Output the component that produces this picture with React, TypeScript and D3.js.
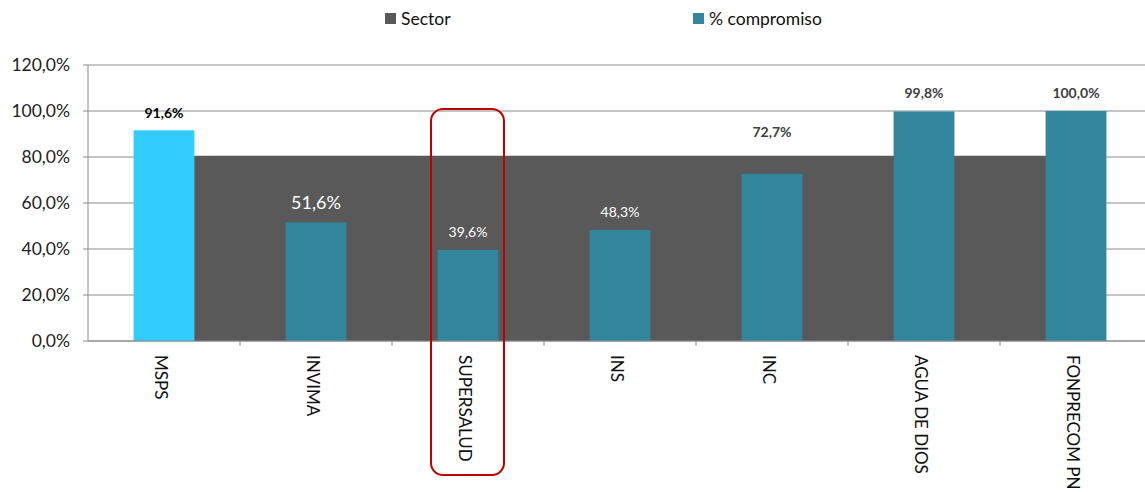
import React, { useEffect, useRef } from "react";
import * as d3 from "d3";

const categories = ["MSPS", "INVIMA", "SUPERSALUD", "INS", "INC", "AGUA DE DIOS", "FONPRECOM PN"];
const compromiso = [91.6, 51.6, 39.6, 48.3, 72.7, 99.8, 100.0];
const sector = [80.5, 80.5, 80.5, 80.5, 80.5, 80.5, 80.5];
const yTicks = [0, 20, 40, 60, 80, 100, 120];

// per-label look (white on the dark band, dark on white)
const labelLook = [
  { size: 14, weight: "bold", color: "#000000", gap: 17 },
  { size: 18, weight: "normal", color: "#ffffff", gap: 20 },
  { size: 14, weight: "normal", color: "#ffffff", gap: 18 },
  { size: 14, weight: "normal", color: "#ffffff", gap: 18 },
  { size: 14, weight: "bold", color: "#404040", gap: 42 },
  { size: 14, weight: "bold", color: "#404040", gap: 18 },
  { size: 14, weight: "bold", color: "#404040", gap: 18 },
];

const FONT = "Lato, 'Open Sans', sans-serif";

const App = () => {
  const ref = useRef<SVGSVGElement>(null);

  useEffect(() => {
    const svg = d3.select(ref.current);
    svg.selectAll("*").remove();

    const left = 88;
    const right = 1152;
    const top = 65;
    const bottom = 341;

    const x = d3.scaleBand<string>().domain(categories).range([left, right]).padding(0);
    const y = d3.scaleLinear().domain([0, 120]).range([bottom, top]);
    const barW = x.bandwidth() * 0.4;
    const center = (c: string) => (x(c) as number) + x.bandwidth() / 2;

    const loc = d3.formatLocale({ decimal: ",", thousands: ".", grouping: [3], currency: ["", ""] });
    const fmt = loc.format(".1f");

    // gridlines
    svg.append("g")
      .selectAll("line")
      .data(yTicks)
      .enter()
      .append("line")
      .attr("x1", left - 5)
      .attr("x2", right)
      .attr("y1", d => y(d))
      .attr("y2", d => y(d))
      .attr("stroke", "#8c8c8c")
      .attr("stroke-width", 1);

    // y labels
    svg.append("g")
      .selectAll("text")
      .data(yTicks)
      .enter()
      .append("text")
      .attr("x", 70)
      .attr("y", d => y(d))
      .attr("dy", "0.35em")
      .attr("text-anchor", "end")
      .style("font-family", FONT)
      .style("font-size", "17.5px")
      .style("fill", "#222")
      .text(d => fmt(d) + "%");

    // sector band (area from first to last category centre)
    const area = d3.area<number>()
      .x((_, i) => center(categories[i]))
      .y0(y(0))
      .y1(d => y(d));
    svg.append("path")
      .datum(sector)
      .attr("d", area)
      .attr("fill", "#595959");

    // compromiso bars
    svg.append("g")
      .selectAll("rect")
      .data(compromiso)
      .enter()
      .append("rect")
      .attr("x", (_, i) => center(categories[i]) - barW / 2)
      .attr("width", barW)
      .attr("y", d => y(d))
      .attr("height", d => y(0) - y(d))
      .attr("fill", (_, i) => (i === 0 ? "#33ccff" : "#31859c"));

    // axes lines
    svg.append("line")
      .attr("x1", left).attr("x2", left)
      .attr("y1", top).attr("y2", bottom)
      .attr("stroke", "#8c8c8c");
    svg.append("line")
      .attr("x1", left).attr("x2", right)
      .attr("y1", bottom).attr("y2", bottom)
      .attr("stroke", "#8c8c8c");
    svg.append("g")
      .selectAll("line")
      .data(categories.slice(1))
      .enter()
      .append("line")
      .attr("x1", d => x(d) as number)
      .attr("x2", d => x(d) as number)
      .attr("y1", bottom)
      .attr("y2", bottom + 5)
      .attr("stroke", "#8c8c8c");

    // value labels
    svg.append("g")
      .selectAll("text")
      .data(compromiso)
      .enter()
      .append("text")
      .attr("x", (_, i) => center(categories[i]))
      .attr("y", (d, i) => y(d) - labelLook[i].gap)
      .attr("dy", "0.35em")
      .attr("text-anchor", "middle")
      .style("font-family", FONT)
      .style("font-size", (_, i) => labelLook[i].size + "px")
      .style("font-weight", (_, i) => labelLook[i].weight)
      .style("fill", (_, i) => labelLook[i].color)
      .text(d => fmt(d) + "%");

    // category labels, rotated
    svg.append("g")
      .selectAll("text")
      .data(categories)
      .enter()
      .append("text")
      .attr("transform", d => `translate(${center(d) - 3}, ${bottom + 14}) rotate(90)`)
      .attr("dy", "0.35em")
      .style("font-family", FONT)
      .style("font-size", "17px")
      .style("fill", "#111")
      .text(d => d);

    // highlight box around SUPERSALUD
    const hx = center("SUPERSALUD");
    svg.append("rect")
      .attr("x", hx - 37)
      .attr("y", 109)
      .attr("width", 73)
      .attr("height", 366)
      .attr("rx", 12)
      .attr("fill", "none")
      .attr("stroke", "#c00000")
      .attr("stroke-width", 2);

    // legend
    const legend = [
      { name: "Sector", color: "#595959", x: 385 },
      { name: "% compromiso", color: "#31859c", x: 693 },
    ];
    const lg = svg.append("g");
    legend.forEach(l => {
      lg.append("rect").attr("x", l.x).attr("y", 13).attr("width", 11).attr("height", 11).attr("fill", l.color);
      lg.append("text")
        .attr("x", l.x + 16)
        .attr("y", 18.5)
        .attr("dy", "0.35em")
        .style("font-family", FONT)
        .style("font-size", "17.5px")
        .style("fill", "#111")
        .text(l.name);
    });
  }, []);

  return (
    <svg
      ref={ref}
      width={1145}
      height={492}
      style={{ position: "absolute", left: 0, top: 0, background: "#fff" }}
    />
  );
};

export default App;
